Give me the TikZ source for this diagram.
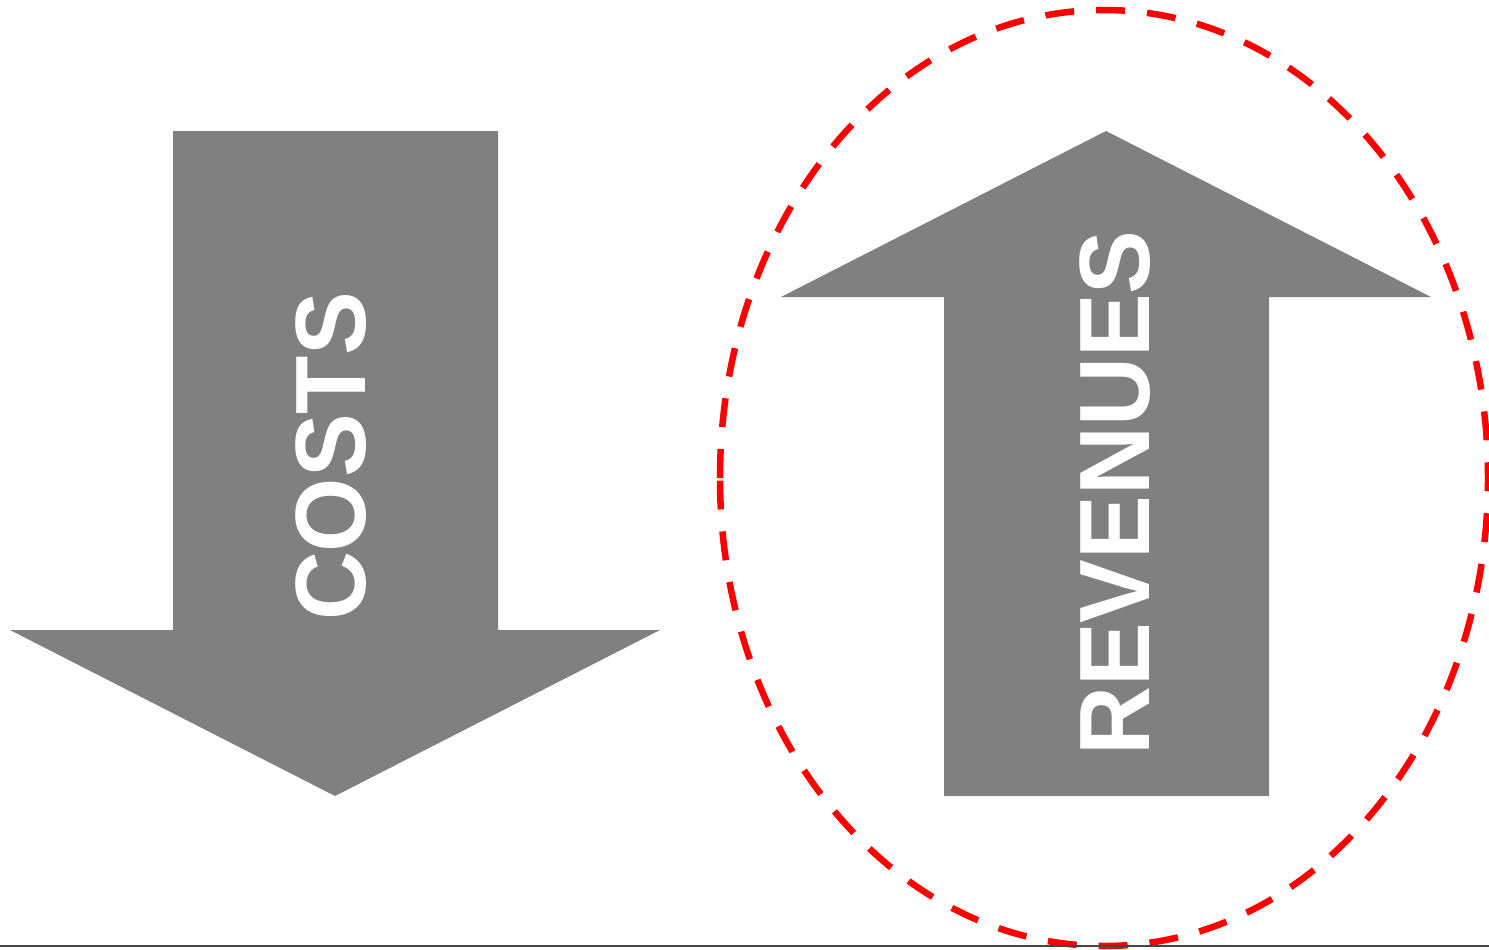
\documentclass[tikz,border=0pt]{standalone}
\usepackage{fontspec}
\setmainfont{Liberation Sans}
\definecolor{arrowgray}{HTML}{808080}
\definecolor{ringred}{HTML}{FF0000}
\definecolor{basegray}{HTML}{444444}
\begin{document}
\begin{tikzpicture}[x=1pt,y=-1pt,
  bigarrow/.style={fill=arrowgray,draw=none},
  label/.style={rotate=90,xscale=0.955,text=white,inner sep=0pt,text height=72pt,text depth=0pt,
    font=\bfseries\fontsize{100}{100}\selectfont},
  ring/.style={draw=ringred,line width=6.5pt,dash pattern=on 29pt off 22pt}]
\useasboundingbox (0,0) rectangle (1489,950);
% down arrow (costs)
\path[bigarrow] (173,131) -- (498,131) -- (498,630) -- (660,630) -- (335,796) -- (10,630) -- (173,630) -- cycle;
% up arrow (revenues)
\path[bigarrow] (944,796) -- (1269,796) -- (1269,297) -- (1431,297) -- (1106,131) -- (781,297) -- (944,297) -- cycle;
\node[label] (costs) at (329.5,456.5) {COSTS};
\node[label] (revenues) at (1113,493) {REVENUES};
% dashed ellipse, starting at its leftmost point
\coordinate (ringstart) at (720,478);
\draw[ring] (ringstart) arc [start angle=180, end angle=540, x radius=384, y radius=468];
% base line
\coordinate (baseL) at (0,946);
\coordinate (baseR) at (1489,946);
\draw[basegray,line width=2pt] (baseL) -- (baseR);
\end{tikzpicture}
\end{document}
